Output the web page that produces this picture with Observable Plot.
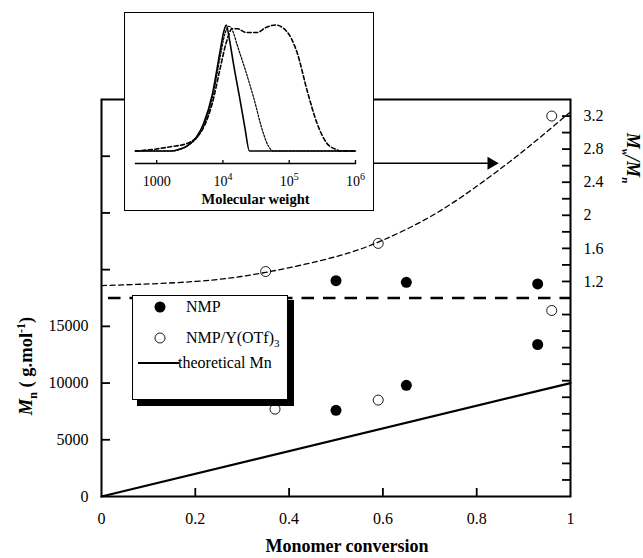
<!DOCTYPE html>
<html><head><meta charset="utf-8">
<script src="https://cdn.jsdelivr.net/npm/d3@7"></script>
<script src="https://cdn.jsdelivr.net/npm/@observablehq/plot@0.6"></script>
<style>
body{margin:0;background:#fff;}
#wrap{position:relative;width:643px;height:558px;font-family:"Liberation Serif",serif;color:#000;}
#wrap svg{display:block}
#inset{position:absolute;left:124px;top:12px;border:1.5px solid #000;background:#fff;}
#shadow{position:absolute;left:137px;top:300px;width:157px;height:106px;background:#000;}
#legend{position:absolute;left:132px;top:295px;width:154px;height:103px;border:1.5px solid #000;background:#fff;font-size:16px;}
#legend .it{position:absolute;left:0;white-space:nowrap;line-height:16px;}
</style></head><body><div id="wrap"><div id="main"></div><div id="inset"></div><div id="shadow"></div><div id="legend"></div></div>
<script>
// ---------- data (main chart) ----------
const nmpConv = [0.50, 0.65, 0.93];
const nmpMn   = [7600, 9800, 13400];
const nmpPDI  = [1.21, 1.19, 1.17];
const yConvMn  = [0.37, 0.59, 0.96];
const yMn      = [7700, 8500, 16400];
const yConvPDI = [0.35, 0.59, 0.96];
const yPDI     = [1.32, 1.66, 3.20];
const theoryConv = [0, 1];
const theoryMn   = [0, 10000];
const fitConv = [0, 0.2, 0.35, 0.5, 0.6, 0.7, 0.8, 0.9, 1.0];
const fitPDI  = [1.15, 1.2, 1.31, 1.5, 1.7, 1.98, 2.35, 2.78, 3.25];
const refPDI  = [1.0];
const xLabels   = [0, 0.2, 0.4, 0.6, 0.8, 1];
const xInner    = [0.2, 0.4, 0.6, 0.8];
const leftTicks = [5000, 10000, 15000, 20000, 25000, 30000];
const leftLabels = [0, 5000, 10000, 15000];
const rightTicks = [-1.2, -1.0, -0.8, -0.6, -0.4, -0.2, 0, 0.2, 0.4, 0.6, 0.8, 1.0, 1.2, 1.4, 1.6, 1.8, 2.0, 2.2, 2.4, 2.6, 2.8, 3.0, 3.2];
const rightLabels = [1.2, 1.6, 2, 2.4, 2.8, 3.2];
const arrowConv = [0.5, 0.847];
const arrowPDI  = [2.63];
const mnDomain  = [0, 35000];
const pdiDomain = [-1.4, 3.4];
// ---------- data (inset GPC traces) ----------
const gpcTicks = [1000, 1e4, 1e5, 1e6];
const gpcDomain = [480, 1e6];
const traceA_logM = [2.68, 3.23, 3.35, 3.46, 3.6, 3.71, 3.84, 3.96, 4.01, 4.05, 4.1, 4.16, 4.26, 4.33, 4.40, 6.0];
const traceA_h    = [0, 0, 0.015, 0.04, 0.11, 0.22, 0.45, 0.8, 0.94, 1.0, 0.88, 0.69, 0.40, 0.19, 0, 0];
const traceB_logM = [2.68, 3.23, 3.46, 3.71, 3.84, 3.96, 4.03, 4.09, 4.15, 4.21, 4.34, 4.46, 4.61, 4.69, 4.76, 6.0];
const traceB_h    = [0, 0, 0.04, 0.2, 0.42, 0.75, 0.93, 0.99, 0.95, 0.85, 0.64, 0.43, 0.14, 0.035, 0, 0];
const traceC_logM = [2.68, 2.95, 3.21, 3.46, 3.71, 3.84, 3.96, 4.05, 4.14, 4.22, 4.35, 4.51, 4.65, 4.79, 4.96, 5.12, 5.27, 5.42, 5.57, 5.72, 5.77, 6.0];
const traceC_h    = [0, 0.013, 0.034, 0.06, 0.19, 0.38, 0.66, 0.86, 0.97, 0.97, 0.94, 0.94, 0.98, 1.0, 0.95, 0.78, 0.48, 0.22, 0.06, 0.01, 0, 0];

// ---------- helpers ----------
const W = 643, H = 558, mL = 101, mR = 73, mT = 99, mB = 62;
const pw = W - mL - mR, ph = H - mT - mB;
const toLeft = v => (v - pdiDomain[0]) / (pdiDomain[1] - pdiDomain[0]) * (mnDomain[1] - mnDomain[0]) + mnDomain[0];
const fromLeft = v => (v - mnDomain[0]) / (mnDomain[1] - mnDomain[0]) * (pdiDomain[1] - pdiDomain[0]) + pdiDomain[0];
const zip = (xs, ys) => xs.map((x, i) => ({x, y: ys[i]}));
const FONT = "Liberation Serif";

const main = Plot.plot({
  width: W, height: H, marginLeft: mL, marginRight: mR, marginTop: mT, marginBottom: mB,
  x: {domain: [0, 1]},
  y: {domain: mnDomain},
  style: {fontFamily: FONT, fontSize: "16px", color: "#000", background: "#fff", overflow: "visible"},
  marks: [
    Plot.ruleX(xInner, {x: d => d, insetTop: ph - 8, strokeWidth: 1.8}),
    Plot.ruleY(leftTicks, {y: d => d, insetRight: pw - 9, strokeWidth: 1.8}),
    Plot.ruleY(rightTicks.map(toLeft), {y: d => d, insetLeft: pw - 8, strokeWidth: 1.8}),
    Plot.frame({strokeWidth: 2}),
    Plot.axisX(xLabels, {tickSize: 0, tickPadding: 16, fontSize: 16, label: null, tickFormat: d => String(d)}),
    Plot.axisY(leftLabels, {anchor: "left", tickSize: 0, tickPadding: 13, fontSize: 16, label: null, tickFormat: d => String(d)}),
    Plot.axisY(rightLabels.map(toLeft), {anchor: "right", tickSize: 0, tickPadding: 13, fontSize: 16, label: null,
      tickFormat: d => String(+fromLeft(d).toFixed(1))}),
    Plot.ruleY(refPDI.map(toLeft), {y: d => d, strokeWidth: 2.3, strokeDasharray: "12.5,9", strokeDashoffset: -7}),
    Plot.line(zip(fitConv, fitPDI), {x: "x", y: d => toLeft(d.y), curve: "natural", strokeWidth: 1.3, strokeDasharray: "5,3.5"}),
    Plot.line(zip(theoryConv, theoryMn), {x: "x", y: "y", strokeWidth: 2.2}),
    Plot.ruleY(arrowPDI.map(toLeft), {y: d => d, x1: arrowConv[0], x2: arrowConv[1], insetRight: 6, strokeWidth: 1.5}),
    Plot.dot(arrowPDI, {x: () => arrowConv[1], y: d => toLeft(d), symbol: "triangle", rotate: 90, r: 4.8, fill: "#000", stroke: "none", dx: -7.5}),
    Plot.dot(zip(nmpConv, nmpMn), {x: "x", y: "y", r: 5.5, fill: "#000"}),
    Plot.dot(zip(nmpConv, nmpPDI), {x: "x", y: d => toLeft(d.y), r: 5.5, fill: "#000"}),
    Plot.dot(zip(yConvMn, yMn), {x: "x", y: "y", r: 5, fill: "none", stroke: "#000", strokeWidth: 0.9}),
    Plot.dot(zip(yConvPDI, yPDI), {x: "x", y: d => toLeft(d.y), r: 5, fill: "none", stroke: "#000", strokeWidth: 0.9})
  ]
});
document.getElementById("main").appendChild(main);

// axis titles
const ms = d3.select(main);
ms.append("text").attr("x", 347).attr("y", 552).attr("text-anchor", "middle")
  .attr("font-family", FONT).attr("font-weight", "bold").attr("font-size", 18).attr("fill", "#000")
  .text("Monomer conversion");
const lt = ms.append("text").attr("transform", "translate(32,366) rotate(-90)").attr("text-anchor", "middle")
  .attr("font-family", FONT).attr("font-weight", "bold").attr("font-size", 18.5).attr("fill", "#000");
lt.append("tspan").attr("font-style", "italic").text("M");
lt.append("tspan").attr("font-size", 12).attr("dy", 5).text("n");
lt.append("tspan").attr("dy", -5).text(" ( g.mol");
lt.append("tspan").attr("font-size", 12).attr("dy", -7).text("-1");
lt.append("tspan").attr("dy", 7).text(")");
const rt = ms.append("text").attr("transform", "translate(627,158) rotate(90)").attr("text-anchor", "middle")
  .attr("font-family", FONT).attr("font-weight", "bold").attr("font-style", "italic").attr("font-size", 18).attr("fill", "#000");
rt.append("tspan").text("M");
rt.append("tspan").attr("font-size", 11).attr("dy", 5).text("w");
rt.append("tspan").attr("dy", -5).text("/M");
rt.append("tspan").attr("font-size", 11).attr("dy", 5).text("n");

// ---------- inset ----------
const IW = 248, IH = 197;
const inset = Plot.plot({
  width: IW, height: IH, marginLeft: 10, marginRight: 18, marginTop: 12, marginBottom: 47,
  x: {type: "log", domain: gpcDomain},
  y: {domain: [0, 1], range: [137.5, 11.5], axis: null},
  style: {fontFamily: FONT, fontSize: "14px", color: "#000", background: "#fff", overflow: "visible"},
  marks: [
    Plot.frame({anchor: "bottom", strokeWidth: 1.3}),
    Plot.ruleX(gpcTicks, {x: d => d, insetTop: IH - 47 - 12 - 3, strokeWidth: 1.3}),
    Plot.axisX(gpcTicks, {tickSize: 0, tickPadding: 13, fontSize: 14, label: null,
      tickFormat: d => d === 1000 ? "1000" : "10^" + Math.round(Math.log10(d))}),
    Plot.line(zip(traceC_logM, traceC_h), {x: d => 10 ** d.x, y: "y", curve: "monotone-x", strokeWidth: 1.6, strokeDasharray: "4,2.5"}),
    Plot.line(zip(traceB_logM, traceB_h), {x: d => 10 ** d.x, y: "y", curve: "monotone-x", strokeWidth: 1.2, strokeDasharray: "2,1.5"}),
    Plot.line(zip(traceA_logM, traceA_h), {x: d => 10 ** d.x, y: "y", curve: "monotone-x", strokeWidth: 1.6})
  ]
});
document.getElementById("inset").appendChild(inset);
const is = d3.select(inset);
is.selectAll('g[aria-label="x-axis tick label"] text').each(function () {
  const t = this.textContent;
  if (t.includes("^")) {
    const [b, e] = t.split("^");
    const el = d3.select(this);
    el.text(null);
    el.append("tspan").text(b);
    el.append("tspan").attr("font-size", 10).attr("dy", -6).text(e);
  }
});
is.append("text").attr("x", 130.5).attr("y", 190.5).attr("text-anchor", "middle")
  .attr("font-family", FONT).attr("font-weight", "bold").attr("font-size", 14.5).attr("fill", "#000")
  .text("Molecular weight");

// ---------- legend ----------
const lg = d3.select("#legend");
const sym = (top, kind) => {
  const s = lg.append("svg").attr("width", 50).attr("height", 20)
    .style("position", "absolute").style("left", "3px").style("top", (top - 10) + "px");
  if (kind === "filled") s.append("circle").attr("cx", 24).attr("cy", 10).attr("r", 5.5).attr("fill", "#000");
  if (kind === "open") s.append("circle").attr("cx", 24).attr("cy", 10).attr("r", 5).attr("fill", "none").attr("stroke", "#000").attr("stroke-width", 0.9);
  if (kind === "line") s.append("line").attr("x1", 2).attr("x2", 43).attr("y1", 10).attr("y2", 10).attr("stroke", "#000").attr("stroke-width", 2.2);
};
sym(11, "filled"); sym(42, "open"); sym(67, "line");
lg.append("div").attr("class", "it").style("top", "3px").style("left", "53px").text("NMP");
lg.append("div").attr("class", "it").style("top", "34px").style("left", "53px").html("NMP/Y(OTf)<sub style='font-size:11px;vertical-align:-4px'>3</sub>");
lg.append("div").attr("class", "it").style("top", "59px").style("left", "45px").text("theoretical Mn");
</script></body></html>
